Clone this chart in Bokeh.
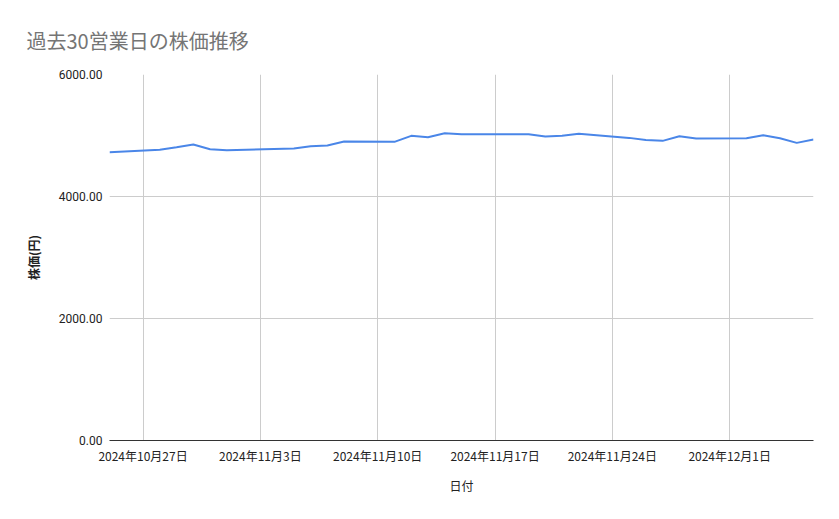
from bokeh.plotting import figure
from bokeh.models import Range1d, FixedTicker, DatetimeTickFormatter, NumeralTickFormatter
from bokeh.embed import file_html
from bokeh.resources import INLINE
import pandas as pd

# 過去30営業日の終値
dates = ["2024-10-25", "2024-10-28", "2024-10-29", "2024-10-30", "2024-10-31",
         "2024-11-01", "2024-11-05", "2024-11-06", "2024-11-07", "2024-11-08",
         "2024-11-11", "2024-11-12", "2024-11-13", "2024-11-14", "2024-11-15",
         "2024-11-18", "2024-11-19", "2024-11-20", "2024-11-21", "2024-11-22",
         "2024-11-25", "2024-11-26", "2024-11-27", "2024-11-28", "2024-11-29",
         "2024-12-02", "2024-12-03", "2024-12-04", "2024-12-05", "2024-12-06"]
prices = [4725, 4765, 4807, 4852, 4775,
          4758, 4786, 4824, 4835, 4901,
          4896, 4994, 4971, 5037, 5020,
          5020, 5022, 4983, 4994, 5027,
          4961, 4928, 4912, 4988, 4950,
          4955, 5004, 4955, 4879, 4933]
tick_dates = ["2024-10-27", "2024-11-03", "2024-11-10", "2024-11-17", "2024-11-24", "2024-12-01"]
y_ticks = [0, 2000, 4000, 6000]

x = pd.to_datetime(dates)
ticks = [pd.Timestamp(d).value // 10**6 for d in tick_dates]

jp = "Noto Sans CJK JP"

p = figure(width=831, height=511, x_axis_type="datetime",
           x_range=Range1d(x[0], x[-1]), y_range=Range1d(0, 6000),
           output_backend="svg", toolbar_location=None,
           min_border_left=109, min_border_right=18, min_border_top=74, min_border_bottom=71)

p.title.text = "過去30営業日の株価推移"
p.title.text_font = jp
p.title.text_font_size = "20px"
p.title.text_font_style = "normal"
p.title.text_color = "#757575"
p.title.align = "left"
p.title.vertical_align = "middle"
p.title.offset = -83
p.title.standoff = 37

p.outline_line_color = None

p.line(x, prices, line_color="#4a86e8", line_width=2)

# x軸
p.xaxis.ticker = FixedTicker(ticks=ticks)
p.xaxis.formatter = DatetimeTickFormatter(days="%Y年%-m月%-d日", months="%Y年%-m月%-d日")
p.xaxis.axis_label = "日付"
p.xaxis.axis_line_color = "#333333"
p.xaxis.major_tick_line_color = None
p.xaxis.minor_tick_line_color = None
p.xaxis.major_tick_out = 0
p.xaxis.major_tick_in = 0
p.xaxis.major_label_text_font = jp
p.xaxis.major_label_text_font_size = "12px"
p.xaxis.major_label_text_color = "#222222"
p.xaxis.major_label_standoff = 6
p.xaxis.axis_label_text_font = jp
p.xaxis.axis_label_text_font_size = "12px"
p.xaxis.axis_label_text_font_style = "normal"
p.xaxis.axis_label_text_color = "#222222"
p.xaxis.axis_label_standoff = 10

# y軸
p.yaxis.ticker = FixedTicker(ticks=y_ticks)
p.yaxis.formatter = NumeralTickFormatter(format="0.00")
p.yaxis.axis_label = "株価(円)"
p.yaxis.axis_line_color = None
p.yaxis.major_tick_line_color = None
p.yaxis.minor_tick_line_color = None
p.yaxis.major_tick_out = 0
p.yaxis.major_tick_in = 0
p.yaxis.major_label_text_font = "Roboto"
p.yaxis.major_label_text_font_size = "12px"
p.yaxis.major_label_text_color = "#222222"
p.yaxis.major_label_standoff = 7
p.yaxis.axis_label_text_font = jp
p.yaxis.axis_label_text_font_size = "12px"
p.yaxis.axis_label_text_font_style = "bold"
p.yaxis.axis_label_text_color = "#222222"
p.yaxis.axis_label_standoff = 14

p.xgrid.grid_line_color = "#cccccc"
p.ygrid.grid_line_color = "#cccccc"

open("out.html", "w").write(file_html(p, INLINE))
